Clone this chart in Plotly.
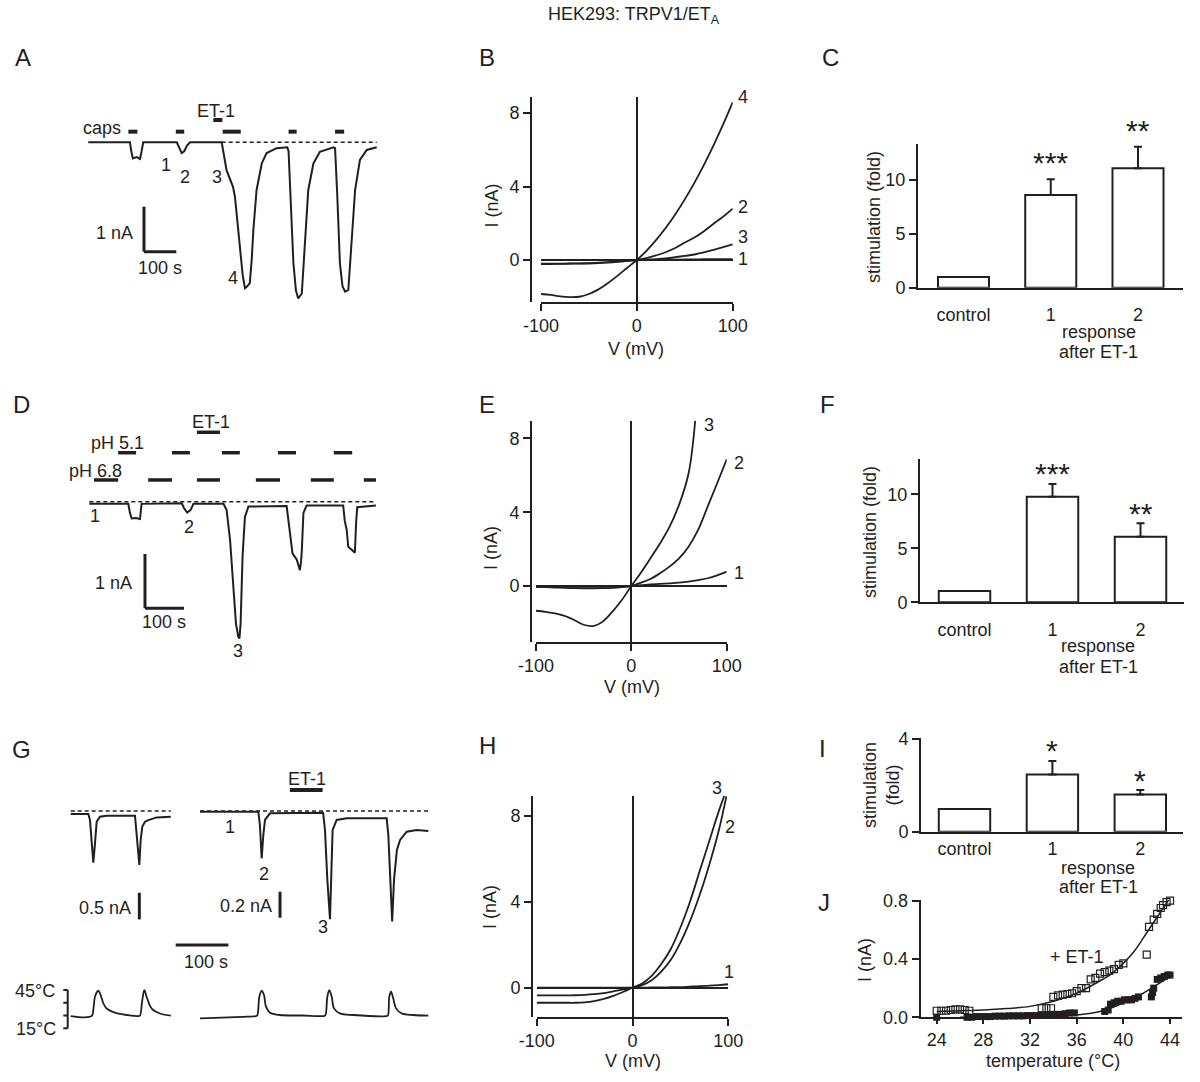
import plotly.graph_objects as go

W, H = 1200, 1082
INK = '#231f20'
FONT = 'Liberation Sans, Arial, Helvetica, sans-serif'
FS = 18

# ================= DATA =================
# Panel A: capsaicin-evoked currents (time s, current nA)
A_t = [0,129,133,138,150,160,165,170,274,281,289,297,305,315,413,428,448,454,469,478,485,492,500,506,511,521,537,552,583,616,
       620,626,635,643,650,661,671,681,697,717,759,764,771,779,787,795,805,815,826,841,862,893]
A_i = [0,0,-0.2,-0.36,-0.33,-0.37,-0.2,0,0,-0.12,-0.24,-0.2,-0.08,0,0,-0.62,-0.99,-1.21,-2.32,-2.95,-3.24,-3.2,-3.13,-2.6,-1.95,-1.06,-0.47,-0.24,-0.13,-0.11,
       -0.2,-1.21,-2.69,-3.3,-3.47,-3.36,-2.32,-1.06,-0.47,-0.21,-0.11,-0.13,-1.21,-2.69,-3.2,-3.32,-3.28,-2.32,-1.06,-0.39,-0.17,-0.11]
A_base_t = [413, 893]
A_caps_on = [124, 271, 416, 620, 764]
A_caps_off = [152, 297, 472, 645, 792]
A_et1 = [387, 415]

# Panel B: I-V curves
B_v = [-100,-90,-80,-70,-60,-50,-40,-30,-20,-10,0,10,20,30,40,50,60,70,80,90,100]
B_i1 = [0,0,0,0,0,0,0,0,0,0,0,0.01,0.01,0.02,0.02,0.03,0.03,0.04,0.04,0.05,0.05]
B_i2 = [-0.2,-0.2,-0.2,-0.19,-0.18,-0.17,-0.15,-0.12,-0.08,-0.04,0,0.1,0.25,0.42,0.65,0.95,1.22,1.57,1.97,2.36,2.8]
B_i3 = [-0.22,-0.22,-0.21,-0.2,-0.2,-0.19,-0.17,-0.14,-0.1,-0.05,0,0.02,0.05,0.09,0.15,0.22,0.3,0.41,0.55,0.7,0.85]
B_i4 = [-1.85,-1.9,-1.98,-2.02,-2.0,-1.85,-1.6,-1.25,-0.85,-0.42,0,0.5,1.08,1.74,2.48,3.3,4.2,5.18,6.24,7.38,8.6]

# Panel C: stimulation (fold)
cats = ['control', '1', '2']
C_val = [1.0, 8.6, 11.08]
C_err = [0, 1.48, 2.0]
C_sig = ['', '***', '**']

# Panel D: proton-evoked currents
D_t = [0,100,104,108.6,120,130,134,237,243,251,260,267,344,352,361,369,376,382,385,388,393,399,408,
       506,510,515,521,532,540,543,545,549,557,651,655,660,664,672,681,684,687,735]
D_i = [-0.04,-0.04,-0.2,-0.31,-0.3,-0.32,-0.04,-0.03,-0.12,-0.2,-0.15,-0.04,-0.04,-0.15,-0.71,-1.63,-2.24,-2.49,-2.52,-2.24,-1.01,-0.28,-0.09,
       -0.08,-0.3,-0.52,-0.95,-1.07,-1.26,-1.1,-0.89,-0.21,-0.07,-0.07,-0.35,-0.52,-0.83,-0.88,-0.94,-0.4,-0.1,-0.07]
D_base_t = [0, 735]
D_ph51_on = [74, 212, 340, 484, 627]
D_ph51_off = [120, 258, 386, 530, 674]
D_ph68_on = [12, 151, 276, 427, 568, 704]
D_ph68_off = [74, 212, 335, 489, 627, 735]
D_et1 = [276, 335]

# Panel E: I-V curves
E_v = [-100,-90,-80,-70,-60,-50,-40,-30,-20,-10,0,10,20,30,40,50,60,70,80,90,100]
E_i1 = [-0.05,-0.05,-0.05,-0.05,-0.05,-0.05,-0.04,-0.04,-0.03,-0.02,0,0.04,0.09,0.11,0.14,0.18,0.24,0.32,0.42,0.58,0.78]
E_i2 = [-0.05,-0.06,-0.08,-0.1,-0.12,-0.13,-0.13,-0.12,-0.1,-0.06,0,0.18,0.38,0.69,1.05,1.5,2.13,3.04,4.3,5.57,6.87]
E_v3 = [-100,-90,-80,-70,-60,-50,-40,-30,-20,-10,0,10,20,30,40,50,60,67]
E_i3 = [-1.34,-1.4,-1.48,-1.62,-1.84,-2.1,-2.17,-1.93,-1.4,-0.76,0,0.72,1.5,2.3,3.2,4.4,6.1,8.97]

# Panel F
F_val = [1.05, 9.78, 6.08]
F_err = [0, 1.18, 1.23]
F_sig = ['', '***', '**']

# Panel G: heat-evoked currents, two recordings, and bath temperature
G_tl = [0,33.4,36.6,39.8,42.9,46.1,49.3,55.6,68,122,125.2,130.2,132.8,135.9,141,147.3,163,190]
G_il = [-0.056,-0.056,-0.17,-0.61,-0.97,-0.61,-0.2,-0.107,-0.088,-0.088,-0.48,-1.01,-0.54,-0.29,-0.2,-0.17,-0.12,-0.107]
G_tr = [245.4,356,359,362.4,365.5,368.7,378,479,482.5,487,492,495,497,504.7,523.7,599.6,602.7,606.5,610,613.5,615.4,619,625,637.6,656.5,678.6]
G_ir = [-0.005,-0.005,-0.108,-0.364,-0.185,-0.069,-0.018,-0.013,-0.146,-0.53,-0.833,-0.45,-0.146,-0.069,-0.056,-0.056,-0.185,-0.53,-0.85,-0.53,-0.43,-0.3,-0.223,-0.159,-0.146,-0.154]
G_base_l = [0, 190]
G_base_r = [245.4, 678.6]
G_et1 = [416, 478]
G_tT_l = [0,39.8,43,46,50,52.4,55.6,61.9,67,74.6,84,93.5,106,128.3,131.5,135.5,139.7,144,150.5,156,163,175.7,190]
G_T_l = [24.6,24.6,30,39.7,43.5,44.4,42.4,34.6,31,28.8,27.2,26.2,25.4,24.6,25,36,44.8,39.7,32.6,29.5,27.8,25.8,24.9]
G_tT_r = [245.4,300,334,351.6,354,358,362.4,366.8,370.6,378.2,397,440,479.3,483,487,490.7,495.3,499.6,511,536,599.6,602,604.6,607.8,612,617.3,628,650,678.6]
G_T_r = [22.8,23.5,24.1,24.6,25,39.7,44.4,41,31.9,27.2,25.4,25,24.6,25,39.7,44.8,39.7,30.6,26.7,25.4,24.6,25,39.7,43.6,38.5,30.6,26.7,25.4,24.9]
G_T_ticks = [15, 25, 35, 45]

# Panel H: I-V curves
H_v = [-100,-90,-80,-70,-60,-50,-40,-30,-20,-10,0,10,20,30,40,50,60,70,80,90,100]
H_i1 = [0,0,0,0,0,0,0,0,0,0,0,0,0.01,0.01,0.02,0.03,0.05,0.07,0.1,0.12,0.16]
H_v2 = [-100,-90,-80,-70,-60,-50,-40,-30,-20,-10,0,10,20,30,40,50,60,70,80,90,98]
H_i2 = [-0.36,-0.36,-0.36,-0.36,-0.35,-0.33,-0.3,-0.25,-0.17,-0.08,0,0.12,0.35,0.75,1.3,2.1,3.1,4.3,5.7,7.3,8.9]
H_v3 = [-100,-90,-80,-70,-60,-50,-40,-30,-20,-10,0,10,20,30,40,50,60,70,80,90,96]
H_i3 = [-0.7,-0.7,-0.7,-0.7,-0.7,-0.68,-0.62,-0.52,-0.38,-0.2,0,0.2,0.55,1.1,1.8,2.8,4.0,5.4,6.8,8.2,8.95]

# Panel I
I_val = [0.98, 2.47, 1.61]
I_err = [0, 0.58, 0.19]
I_sig = ['', '*', '*']

# Panel J: current vs temperature
J_T_open = [24.0,24.4,24.8,25.2,25.6,26.0,26.4,26.8,33.0,33.4,33.8,34.0,34.4,34.8,35.2,35.6,36.0,36.4,36.8,37.2,37.6,
            38.0,38.4,38.8,39.2,39.6,40.0,42.0,42.2,42.6,42.9,43.2,43.4,43.7,44.0]
J_I_open = [0.045,0.045,0.045,0.05,0.055,0.055,0.05,0.045,0.062,0.062,0.062,0.14,0.15,0.155,0.16,0.165,0.18,0.2,0.2,0.26,0.27,
            0.3,0.31,0.32,0.33,0.36,0.37,0.43,0.62,0.67,0.71,0.75,0.77,0.79,0.8]
J_T_fill = [24.0,26.6,27.0,27.4,27.8,28.2,28.6,29.0,29.4,29.8,30.2,30.6,31.0,31.4,31.8,32.2,32.6,33.0,33.4,33.8,34.2,34.6,35.0,35.4,35.8,
            38.4,38.7,38.9,39.2,39.5,39.8,40.1,40.4,40.7,41.0,41.3,42.4,42.5,42.6,42.9,43.2,43.5,43.8,44.0]
J_I_fill = [0.0,0.0,0.0,0.005,0.005,0.005,0.005,0.008,0.008,0.008,0.01,0.01,0.01,0.01,0.012,0.012,0.012,0.015,0.015,0.02,0.02,0.02,0.025,0.03,0.03,
            0.04,0.05,0.09,0.1,0.11,0.11,0.12,0.12,0.12,0.13,0.14,0.14,0.17,0.2,0.26,0.27,0.28,0.29,0.29]
J_T_fit_open = [24,26,28,30,32,34,36,38,39,40,41,42,43,44]
J_I_fit_open = [0.04,0.045,0.05,0.06,0.075,0.11,0.165,0.25,0.3,0.37,0.46,0.58,0.7,0.82]
J_T_fit_fill = [26,28,30,32,34,36,38,39,40,41,42,43,44]
J_I_fit_fill = [0.0,0.002,0.004,0.007,0.01,0.016,0.04,0.065,0.1,0.135,0.18,0.23,0.28]


# ================= helpers =================
def dx(p0, p1):
    return [p0 / W, p1 / W]

def dy(top, bot):
    return [1 - bot / H, 1 - top / H]

def rx(p0, p1, origin, ppu):
    return [(p0 - origin) / ppu, (p1 - origin) / ppu]

def ry(top, bot, origin, ppu):
    return [(origin - bot) / ppu, (origin - top) / ppu]

TF = dict(family=FONT, size=FS, color=INK)
LW = 2
DOT = '4px,3px'

fig = go.Figure()

def line(x, y, xa, ya, width=2, dash=None, shape='linear'):
    fig.add_trace(go.Scatter(x=x, y=y, mode='lines', xaxis=xa, yaxis=ya,
                             line=dict(color=INK, width=width, dash=dash, shape=shape),
                             hoverinfo='skip', showlegend=False))

shapes = []
def seg(xref, yref, x0, x1, y0, y1, w=2):
    shapes.append(dict(type='line', xref=xref, yref=yref, x0=x0, x1=x1, y0=y0, y1=y1,
                       line=dict(color=INK, width=w)))

ann = []
def txt(x, y, s, size=FS, xa='center', ya='middle', ang=0):
    ann.append(dict(x=x / W, y=1 - y / H, xref='paper', yref='paper', text=s, showarrow=False,
                    font=dict(family=FONT, size=size, color=INK), xanchor=xa, yanchor=ya,
                    textangle=ang))

layout = {}
hidden = dict(visible=False, fixedrange=True, showgrid=False, zeroline=False, automargin=False)

# ---------- Panel A ----------
layout['xaxis'] = dict(hidden, domain=dx(80, 390), range=rx(80, 390, 88.3, 0.323), anchor='y')
layout['yaxis'] = dict(hidden, domain=dy(95, 310), range=ry(95, 310, 142.3, 45), anchor='x')
line(A_base_t, [0, 0], 'x', 'y', width=1.6, dash=DOT)
line(A_t, A_i, 'x', 'y', width=2)
for a, b in zip(A_caps_on, A_caps_off):
    seg('x', 'y', a, b, 0.236, 0.236, 4)
seg('x', 'y', A_et1[0], A_et1[1], 0.496, 0.496, 4)
seg('x', 'y', 172.4, 172.4, -1.431, -2.431, 3)
seg('x', 'y', 172.4, 272.4, -2.431, -2.431, 3)

# ---------- IV panels ----------
def iv_axes(n_x, n_y, x0, x1, xline, ytop, ybot, zero_py, ppu, spine):
    tick = dict(ticks='outside', ticklen=7, tickwidth=LW, tickcolor=INK, tickfont=TF,
                showline=True, linewidth=LW, linecolor=INK, showgrid=False, automargin=False,
                zeroline=True, zerolinecolor=INK, zerolinewidth=1.6, fixedrange=True)
    layout[n_x] = dict(tick, domain=dx(x0, x1), range=[-100, 100], anchor='free',
                       position=1 - xline / H, tickvals=[-100, 0, 100], ticktext=['-100', '0', '100'])
    layout[n_y] = dict(tick, domain=dy(ytop, ybot), range=ry(ytop, ybot, zero_py, ppu), anchor='free',
                       position=spine / W, tickvals=[0, 4, 8], ticktext=['0', '4', '8'])

iv_axes('xaxis2', 'yaxis2', 541, 732.7, 302.7, 97, 302, 260, 18.37, 531)
for yy in (B_i1, B_i3, B_i2, B_i4):
    line(B_v, yy, 'x2', 'y2', width=1.8, shape='spline')

iv_axes('xaxis5', 'yaxis5', 536, 726.7, 642.7, 420.7, 642, 586, 18.45, 531)
line(E_v, E_i1, 'x5', 'y5', width=1.8, shape='spline')
line(E_v, E_i2, 'x5', 'y5', width=1.8, shape='spline')
line(E_v3, E_i3, 'x5', 'y5', width=1.8, shape='spline')

iv_axes('xaxis8', 'yaxis10', 536.7, 728.3, 1017.7, 796, 1017, 987.7, 21.5, 532)
line(H_v, H_i1, 'x8', 'y10', width=1.8, shape='spline')
line(H_v2, H_i2, 'x8', 'y10', width=1.8, shape='spline')
line(H_v3, H_i3, 'x8', 'y10', width=1.8, shape='spline')

# ---------- Bar panels ----------
def bar_panel(n, xa_name, ya_name, x0, x1, ctr0, spacing, ytop, ybot, ppu, yticks, vals, errs, sig,
              catlen, star_shift):
    layout[xa_name] = dict(domain=dx(x0, x1), range=rx(x0, x1, ctr0, spacing), anchor='y' + n[1],
                           showline=True, linewidth=LW, linecolor=INK, ticks='outside', ticklen=catlen,
                           tickcolor='rgba(0,0,0,0)', tickvals=[0, 1, 2], ticktext=cats, tickfont=TF,
                           showgrid=False, zeroline=False, fixedrange=True, automargin=False)
    layout[ya_name] = dict(domain=dy(ytop, ybot), range=ry(ytop, ybot, ybot, ppu), anchor='x' + n[0],
                           showline=True, linewidth=LW, linecolor=INK, ticks='outside', ticklen=7,
                           tickwidth=LW, tickcolor=INK, tickvals=yticks, ticktext=[str(v) for v in yticks],
                           tickfont=TF, showgrid=False, zeroline=False, fixedrange=True, automargin=False)
    fig.add_trace(go.Bar(x=[0, 1, 2], y=vals, width=0.585, xaxis='x' + n[0], yaxis='y' + n[1],
                         marker=dict(color='white', line=dict(color=INK, width=2)),
                         error_y=dict(type='data', symmetric=False, array=errs, arrayminus=[0, 0, 0],
                                      color=INK, thickness=2, width=4),
                         hoverinfo='skip', showlegend=False))
    for i, s in enumerate(sig):
        if s:
            ann.append(dict(x=i, y=vals[i] + errs[i], xref='x' + n[0], yref='y' + n[1], text=s,
                            showarrow=False, font=dict(family=FONT, size=30, color=INK),
                            xanchor='center', yanchor='middle', yshift=star_shift[i]))

bar_panel(('3', '3'), 'xaxis3', 'yaxis3', 918, 1183, 963.5, 87.25, 144, 287.7, 10.77, [0, 5, 10],
          C_val, C_err, C_sig, 10, [0, 17, 16])
bar_panel(('6', '6'), 'xaxis6', 'yaxis6', 920, 1184, 964.5, 88, 459.3, 602.3, 10.8, [0, 5, 10],
          F_val, F_err, F_sig, 10, [0, 10, 10])
bar_panel(('9', '11'), 'xaxis9', 'yaxis11', 921, 1182.7, 964.5, 87.9, 738, 831.7, 23.18, [0, 4],
          I_val, I_err, I_sig, 0, [0, 11, 9])

# ---------- Panel D ----------
layout['xaxis4'] = dict(hidden, domain=dx(80, 390), range=rx(80, 390, 89.3, 0.39), anchor='y4')
layout['yaxis4'] = dict(hidden, domain=dy(410, 660), range=ry(410, 660, 501.7, 54.3), anchor='x4')
line(D_base_t, [0, 0], 'x4', 'y4', width=1.6, dash=DOT)
line(D_t, D_i, 'x4', 'y4', width=2)
for a, b in zip(D_ph51_on, D_ph51_off):
    seg('x4', 'y4', a, b, 0.902, 0.902, 3.5)
for a, b in zip(D_ph68_on, D_ph68_off):
    seg('x4', 'y4', a, b, 0.40, 0.40, 3.5)
seg('x4', 'y4', D_et1[0], D_et1[1], 1.278, 1.278, 3.5)
seg('x4', 'y4', 142.8, 142.8, -0.963, -1.963, 3)
seg('x4', 'y4', 142.8, 242.8, -1.963, -1.963, 3)

# ---------- Panel G ----------
layout['xaxis7'] = dict(hidden, domain=dx(60, 440), range=rx(60, 440, 70.7, 0.527), anchor='y7')
layout['yaxis7'] = dict(hidden, domain=dy(770, 935), range=ry(770, 935, 811, 53.3), anchor='x7')
layout['yaxis8'] = dict(hidden, domain=dy(770, 935), range=ry(770, 935, 811, 130), anchor='x7')
layout['yaxis9'] = dict(hidden, domain=dy(985, 1035), range=[15 + (1028.3 - 1035) / 1.278, 15 + (1028.3 - 985) / 1.278], anchor='x7')
line(G_base_l, [0, 0], 'x7', 'y7', width=1.6, dash=DOT)
line(G_base_r, [0, 0], 'x7', 'y8', width=1.6, dash=DOT)
line(G_tl, G_il, 'x7', 'y7', width=2)
line(G_tr, G_ir, 'x7', 'y8', width=2)
line(G_tT_l, G_T_l, 'x7', 'y9', width=1.8, shape='spline')
line(G_tT_r, G_T_r, 'x7', 'y9', width=1.8, shape='spline')
seg('x7', 'y8', G_et1[0], G_et1[1], 0.1615, 0.1615, 4)
seg('x7', 'y7', 130.2, 130.2, -1.533, -2.033, 3)
seg('x7', 'y8', 397.2, 397.2, -0.621, -0.821, 3)
shapes.append(dict(type='line', xref='x7', yref='paper', x0=199.2, x1=299.2, y0=1 - 945 / H, y1=1 - 945 / H,
                   line=dict(color=INK, width=3)))
shapes.append(dict(type='line', xref='paper', yref='y9', x0=67.7 / W, x1=67.7 / W, y0=15, y1=45,
                   line=dict(color=INK, width=2)))
for tv in G_T_ticks:
    shapes.append(dict(type='line', xref='paper', yref='y9', x0=63.3 / W, x1=67.7 / W, y0=tv, y1=tv,
                       line=dict(color=INK, width=2)))

# ---------- Panel J ----------
layout['xaxis10'] = dict(domain=dx(920.7, 1181.7), range=rx(920.7, 1181.7, 936.7 - 24 * 11.667, 11.667),
                         anchor='y12', showline=True, linewidth=LW, linecolor=INK, ticks='outside', ticklen=5,
                         tickwidth=LW, tickcolor=INK, tickvals=[24, 28, 32, 36, 40, 44], tickfont=TF,
                         showgrid=False, zeroline=False, fixedrange=True, automargin=False)
layout['yaxis12'] = dict(domain=dy(900, 1017.3), range=ry(900, 1017.3, 1017.3, 145.75), anchor='x10',
                         showline=True, linewidth=LW, linecolor=INK, ticks='outside', ticklen=7, tickwidth=LW,
                         tickcolor=INK, tickvals=[0, 0.4, 0.8], ticktext=['0.0', '0.4', '0.8'], tickfont=TF,
                         showgrid=False, zeroline=False, fixedrange=True, automargin=False)
line(J_T_fit_fill, J_I_fit_fill, 'x10', 'y12', width=1.5, shape='spline')
line(J_T_fit_open, J_I_fit_open, 'x10', 'y12', width=1.5, shape='spline')
fig.add_trace(go.Scatter(x=J_T_fill, y=J_I_fill, mode='markers', xaxis='x10', yaxis='y12', cliponaxis=False,
                         marker=dict(symbol='square', size=7, color=INK), hoverinfo='skip', showlegend=False))
fig.add_trace(go.Scatter(x=J_T_open, y=J_I_open, mode='markers', xaxis='x10', yaxis='y12', cliponaxis=False,
                         marker=dict(symbol='square-open', size=7, color=INK, line=dict(width=1.2)),
                         hoverinfo='skip', showlegend=False))

# ================= TEXT =================
txt(634, 16, 'HEK293: TRPV1/ET<sub>A</sub>')
for L, x, y in [('A', 23, 57), ('B', 487, 57), ('C', 830, 57), ('D', 21, 404), ('E', 487, 404), ('F', 827, 404),
                ('G', 21, 749), ('H', 487, 745), ('I', 822, 748), ('J', 824, 902)]:
    txt(x, y, L, size=24)

# A
txt(123, 128, 'caps', xa='right')
txt(216, 111, 'ET-1')
txt(135, 233, '1 nA', xa='right')
txt(160, 268, '100 s')
for s, x, y in [('1', 166, 165), ('2', 185, 177), ('3', 217, 177), ('4', 233, 278)]:
    txt(x, y, s)
# D
txt(211, 422, 'ET-1')
txt(117, 443, 'pH 5.1')
txt(95, 471, 'pH 6.8')
txt(113, 583, '1 nA')
txt(164, 622, '100 s')
for s, x, y in [('1', 95, 516), ('2', 189, 527), ('3', 238, 651)]:
    txt(x, y, s)
# G
txt(307, 779, 'ET-1')
txt(104.5, 908, '0.5 nA')
txt(246, 906, '0.2 nA')
txt(206, 962, '100 s')
txt(35, 991, '45°C')
txt(36, 1029, '15°C')
for s, x, y in [('1', 230, 827), ('2', 264, 874), ('3', 323, 927)]:
    txt(x, y, s)
# B, E, H
txt(491.5, 206, 'I (nA)', ang=-90)
txt(636, 349, 'V (mV)')
for s, x, y in [('4', 743, 97.5), ('2', 743, 207), ('3', 743, 237), ('1', 743, 259)]:
    txt(x, y, s)
txt(491, 548, 'I (nA)', ang=-90)
txt(632, 687, 'V (mV)')
for s, x, y in [('3', 709, 425), ('2', 739, 463), ('1', 739, 573)]:
    txt(x, y, s)
txt(490, 907, 'I (nA)', ang=-90)
txt(633, 1061, 'V (mV)')
for s, x, y in [('3', 717, 788), ('2', 730, 827), ('1', 729, 972)]:
    txt(x, y, s)
# C, F, I
txt(874.5, 217.5, 'stimulation (fold)', ang=-90)
txt(1098.5, 332, 'response')
txt(1098.5, 352, 'after ET-1')
txt(870, 532, 'stimulation (fold)', ang=-90)
txt(1098, 646, 'response')
txt(1098, 667, 'after ET-1')
txt(881, 785, 'stimulation<br>(fold)', ang=-90)
txt(1098, 868, 'response')
txt(1098, 887, 'after ET-1')
# J
txt(865, 960, 'I (nA)', ang=-90)
txt(1053, 1061, 'temperature (°C)')
txt(1077, 957, '+ ET-1')

fig.update_layout(template='none', width=W, height=H,
                  margin=dict(l=0, r=0, t=0, b=0, pad=0, autoexpand=False),
                  paper_bgcolor='white', plot_bgcolor='rgba(0,0,0,0)', showlegend=False, hovermode=False,
                  font=dict(family=FONT, size=FS, color=INK), shapes=shapes, annotations=ann, **layout)

fig.write_html('out.html', config={'displayModeBar': False},
               post_script="document.body.style.margin='0';document.body.style.padding='0';")
